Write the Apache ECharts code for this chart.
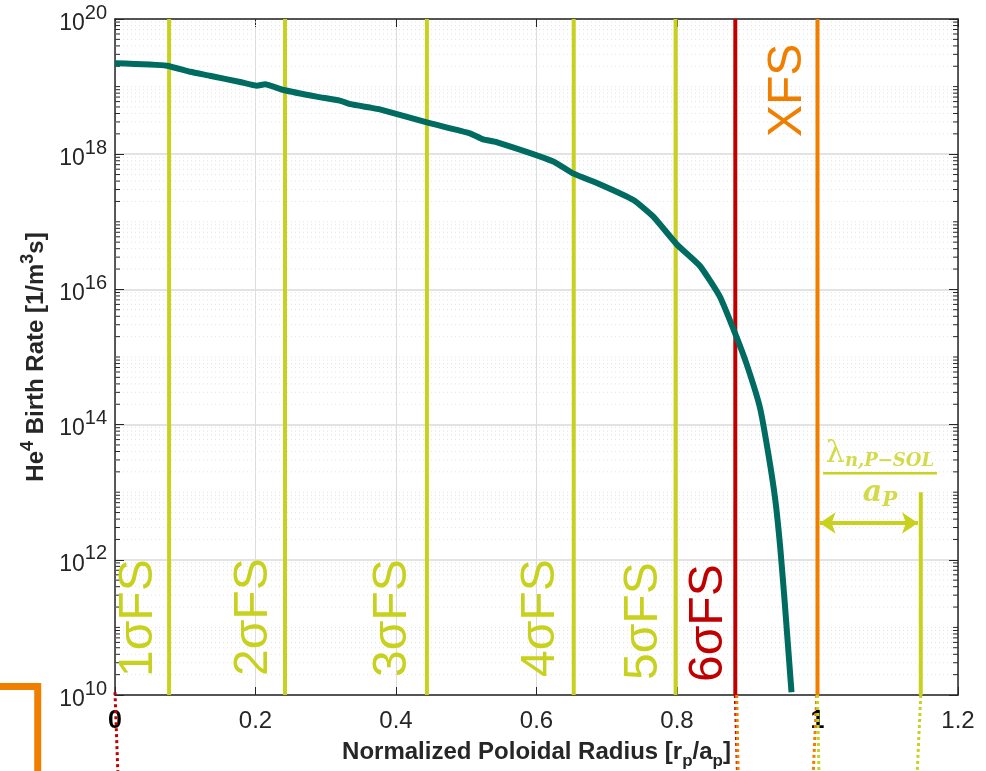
<!DOCTYPE html>
<html>
<head>
<meta charset="utf-8">
<script src="https://cdn.jsdelivr.net/npm/echarts@6/dist/echarts.min.js"></script>
<style>
html, body { margin: 0; padding: 0; background: #fff; }
#chart { width: 986px; height: 771px; }
</style>
</head>
<body>
<div id="chart"></div>
<script>
// He4 birth rate profile vs normalized poloidal radius
const radius = [0, 0.0735, 0.107, 0.135, 0.178, 0.202, 0.2135, 0.240, 0.287, 0.320, 0.335, 0.363, 0.377,
  0.444, 0.505, 0.524, 0.543, 0.624, 0.652, 0.690, 0.738, 0.766, 0.800, 0.833, 0.861, 0.883, 0.899,
  0.918, 0.930, 0.940, 0.947, 0.953, 0.963];
const birthRate = [2.21e19, 2.04e19, 1.66e19, 1.45e19, 1.17e19, 1.03e19, 1.08e19, 8.9e18, 7.1e18, 6.2e18, 5.5e18, 4.9e18, 4.6e18,
  2.95e18, 2.04e18, 1.66e18, 1.51e18, 7.8e17, 5.2e17, 3.6e17, 2.1e17, 1.2e17, 4.6e16, 2.2e16, 7.8e15, 2.2e15, 7.9e14,
  1.8e14, 3.7e13, 7.6e12, 1.5e12, 2.6e11, 1.1e10];

// flux surfaces
const fsNames = ["1σFS", "2σFS", "3σFS", "4σFS", "5σFS", "6σFS", "XFS"];
const fsRadius = [0.077, 0.242, 0.444, 0.653, 0.798, 0.883, 1.0];

// SOL width marker
const solStart = 1.0;
const solEnd = 1.147;
const solTop = 1e13;
const arrowLevel = 3.5e12;
const fracLevel = 1.9e13;

const yMin = 1e10;
const yMax = 1e20;
const yBelow = 7.5e8;

const LIME = "#c8d21e";
const RED = "#c00000";
const ORANGE = "#f07f00";
const TEAL = "#006b60";
const INK = "#262626";

const fsColors = [LIME, LIME, LIME, LIME, LIME, RED, ORANGE];
// label placement in pixels: shift from its line, and rise above the bottom axis (XFS: drop below the top)
const labelShift = [-30, -31, -34, -33, -32, -27, -30];
const labelRise = [18, 19, 18, 18, 15, 13, -118];

// minor log ticks (k * 10^n), even decades are the major ones
const minorVals = [];
for (let e = 10; e < 20; e++) {
  for (let k = 1; k <= 9; k++) {
    if (k === 1 && e % 2 === 0) continue;
    minorVals.push(k * Math.pow(10, e));
  }
}

let myChart = echarts.init(document.getElementById("chart"));

const font = "Liberation Sans";

let series = [];

// minor grid + ticks
series.push({
  type: "custom",
  silent: true,
  z: 1,
  data: minorVals.map((v) => [0, v]),
  encode: { x: 0, y: 1 },
  renderItem: function (params, api) {
    const y = api.coord([0, api.value(1)])[1];
    const cs = params.coordSys;
    return {
      type: "group",
      children: [
        { type: "line", shape: { x1: cs.x, y1: y, x2: cs.x + cs.width, y2: y },
          style: { stroke: "#e4e4e4", lineWidth: 1, lineDash: [1, 3] } },
        { type: "line", shape: { x1: cs.x, y1: y, x2: cs.x + 5, y2: y },
          style: { stroke: INK, lineWidth: 1 } },
        { type: "line", shape: { x1: cs.x + cs.width - 5, y1: y, x2: cs.x + cs.width, y2: y },
          style: { stroke: INK, lineWidth: 1 } },
      ],
    };
  },
});

// flux surface lines
fsRadius.forEach((x, i) => {
  series.push({
    type: "line",
    z: 3,
    symbol: "none",
    lineStyle: { color: fsColors[i], width: 4 },
    data: [[x, yMin], [x, yMax]],
  });
});

// SOL line with double arrow
series.push({
  type: "line",
  z: 3,
  symbol: "none",
  lineStyle: { color: LIME, width: 4 },
  data: [[solEnd, yMin], [solEnd, solTop]],
  markLine: {
    silent: true,
    symbol: ["arrow", "arrow"],
    symbolSize: 16,
    label: { show: false },
    lineStyle: { color: LIME, width: 4, type: "solid" },
    data: [[{ coord: [solStart + 0.003, arrowLevel] }, { coord: [solEnd - 0.004, arrowLevel] }]],
  },
});

// fraction bar
series.push({
  type: "line",
  z: 3,
  symbol: "none",
  lineStyle: { color: LIME, width: 2.5 },
  data: [[1.008, fracLevel], [1.17, fracLevel]],
});

// fraction text
series.push({
  type: "scatter",
  z: 5,
  symbolSize: 0,
  data: [[(1.008 + 1.17) / 2, fracLevel]],
  label: {
    show: true,
    position: "top",
    distance: 3,
    formatter: "{l|λ}{s|n,P−SOL}",
    rich: {
      l: { fontFamily: "DejaVu Serif", fontSize: 30, color: LIME, verticalAlign: "top" },
      s: { fontFamily: "DejaVu Serif", fontSize: 18, fontStyle: "italic", fontWeight: "bold", color: LIME, padding: [13, 0, 0, 0] },
    },
  },
});
series.push({
  type: "scatter",
  z: 5,
  symbolSize: 0,
  data: [[(1.008 + 1.17) / 2, fracLevel]],
  label: {
    show: true,
    position: "bottom",
    distance: 5,
    formatter: "{a|a}{p|P}",
    rich: {
      a: { fontFamily: "DejaVu Serif", fontSize: 30, fontStyle: "italic", fontWeight: "bold", color: LIME, verticalAlign: "top" },
      p: { fontFamily: "DejaVu Serif", fontSize: 20, fontStyle: "italic", fontWeight: "bold", color: LIME, padding: [12, 0, 0, 0] },
    },
  },
});

// dotted leftovers below the axis
const dotted = [
  { c: RED, d: [[0, 1.1e10], [0.004, yBelow]] },
  { c: RED, d: [[0.883, yMin], [0.886, yBelow]] },
  { c: ORANGE, d: [[0.885, yMin], [0.887, yBelow]] },
  { c: ORANGE, d: [[0.999, yMin], [0.994, yBelow]] },
  { c: LIME, d: [[1.0, yMin], [1.002, yBelow]] },
  { c: LIME, d: [[solEnd, yMin], [1.142, yBelow]] },
];
dotted.forEach((o) => {
  series.push({
    type: "line",
    z: 4,
    clip: false,
    symbol: "none",
    lineStyle: { color: o.c, width: 3, type: [3, 3] },
    data: o.d,
  });
});

// birth rate curve
series.push({
  name: "He4 birth rate",
  type: "line",
  z: 6,
  symbol: "none",
  smooth: 0.15,
  lineStyle: { color: TEAL, width: 6 },
  data: radius.map((r, i) => [r, birthRate[i]]),
});

let option = {
  animation: false,
  backgroundColor: "#fff",
  grid: { left: 115, right: 28, top: 19, bottom: 76, containLabel: false, outerBoundsMode: "none" },
  xAxis: [
    {
      type: "value",
      min: 0,
      max: 1.2,
      interval: 0.2,
      name: "Normalized Poloidal Radius [r{sub|p}/a{sub|p}]",
      nameLocation: "middle",
      nameGap: 40,
      nameTextStyle: {
        fontFamily: font, fontSize: 24, fontWeight: "bold", color: INK,
        rich: { sub: { fontFamily: font, fontSize: 17, fontWeight: "bold", color: INK, padding: [18, 0, 0, 0] } },
      },
      axisLine: { show: true, onZero: false, lineStyle: { color: INK, width: 1.5 } },
      axisTick: { show: true, inside: true, length: 8, lineStyle: { color: INK } },
      axisLabel: {
        margin: 14,
        fontFamily: font,
        fontSize: 24,
        color: INK,
        formatter: function (v) {
          const s = String(+v.toFixed(1));
          return v === 0 || v === 1 ? "{k|" + s + "}" : s;
        },
        rich: { k: { fontFamily: font, fontSize: 25, fontWeight: "bold", color: "#000" } },
      },
      splitLine: { show: true, lineStyle: { color: "#dcdcdc", width: 1 } },
    },
    {
      type: "value",
      position: "top",
      min: 0,
      max: 1.2,
      interval: 0.2,
      axisLine: { show: true, onZero: false, lineStyle: { color: INK, width: 1.5 } },
      axisTick: { show: true, inside: true, length: 8, lineStyle: { color: INK } },
      axisLabel: { show: false },
      splitLine: { show: false },
    },
  ],
  yAxis: [
    {
      type: "log",
      logBase: 10,
      min: yMin,
      max: yMax,
      interval: 2,
      name: "He{sup|4} Birth Rate [1/m{sup|3}s]",
      nameLocation: "middle",
      nameGap: 57,
      nameRotate: 90,
      nameTextStyle: {
        fontFamily: font, fontSize: 24, fontWeight: "bold", color: INK,
        rich: { sup: { fontFamily: font, fontSize: 18, fontWeight: "bold", color: INK, padding: [0, 0, 16, 0] } },
      },
      axisLine: { show: true, onZero: false, lineStyle: { color: INK, width: 1.5 } },
      axisTick: { show: true, inside: true, length: 9, lineStyle: { color: INK } },
      axisLabel: {
        margin: 8,
        fontFamily: font,
        color: INK,
        formatter: function (v) {
          const e = Math.round(Math.log10(v));
          return "{b|10}{s|" + e + "}";
        },
        rich: {
          b: { fontFamily: font, fontSize: 23, color: INK, verticalAlign: "bottom" },
          s: { fontFamily: font, fontSize: 20, color: INK, padding: [0, 0, 12, 0] },
        },
      },
      splitLine: { show: true, lineStyle: { color: "#e3e3e3", width: 2 } },
    },
    {
      type: "log",
      logBase: 10,
      position: "right",
      min: yMin,
      max: yMax,
      interval: 2,
      axisLine: { show: true, onZero: false, lineStyle: { color: INK, width: 1.5 } },
      axisTick: { show: true, inside: true, length: 9, lineStyle: { color: INK } },
      axisLabel: { show: false },
      splitLine: { show: false },
    },
  ],
  series: series,
};

myChart.setOption(option);

// rotated flux-surface labels and the orange bracket, placed through the axes
function toPx(x, y) {
  return myChart.convertToPixel({ xAxisIndex: 0, yAxisIndex: 0 }, [x, y]);
}
let graphics = fsRadius.map((x, i) => {
  const base = toPx(x, i === 6 ? yMax : yMin);
  return {
    type: "text",
    x: base[0] + labelShift[i],
    y: base[1] - labelRise[i],
    rotation: Math.PI / 2,
    z: 100,
    style: {
      text: fsNames[i],
      font: "48px " + font,
      fill: fsColors[i],
      align: "left",
      verticalAlign: "middle",
    },
  };
});
const bracket = [[-0.17, 1.34e10], [-0.110, 1.34e10], [-0.110, yBelow]].map((p) => toPx(p[0], p[1]));
graphics.push({
  type: "polyline",
  z: 100,
  shape: { points: bracket },
  style: { stroke: ORANGE, lineWidth: 7, fill: null, lineJoin: "miter" },
});
myChart.setOption({ graphic: graphics });
</script>
</body>
</html>
